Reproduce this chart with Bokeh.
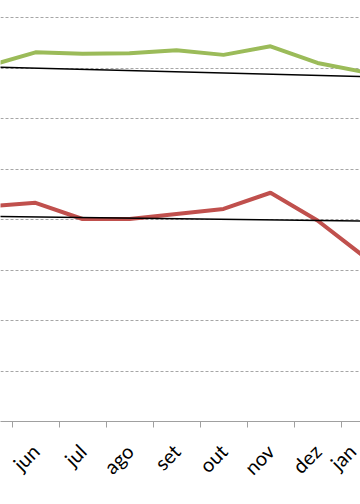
import math
from bokeh.plotting import figure
from bokeh.models import FixedTicker, Range1d
from bokeh.embed import file_html
from bokeh.resources import INLINE

# category labels (index 0 = "mai", partially outside the visible window)
months = ["mai", "jun", "jul", "ago", "set", "out", "nov", "dez", "jan"]
green_vals = [70.4, 73.1, 72.8, 72.9, 73.5, 72.6, 74.3, 71.0, 69.2]
red_vals = [42.6, 43.3, 40.1, 40.1, 41.1, 42.1, 45.3, 39.8, 32.6]
# linear trend lines (value at first and last category)
trend_x = [0, 8]
green_trend = [70.2, 68.3]
red_trend = [40.6, 39.7]
grid_vals = [10, 20, 30, 40, 50, 60, 70, 80]

xs = list(range(len(months)))
x_start, x_end = 12 / 47, 372 / 47

p = figure(width=360, height=504, output_backend="svg", toolbar_location=None,
           x_range=Range1d(x_start, x_end), y_range=Range1d(0, 421 / 5.05),
           min_border_left=0, min_border_right=0, min_border_top=0,
           min_border_bottom=83)
p.outline_line_color = None
p.background_fill_color = "white"
p.border_fill_color = "white"

p.line(xs, green_vals, line_color="#9BBB59", line_width=4)
p.line(xs, red_vals, line_color="#C0504D", line_width=4)
p.line(trend_x, green_trend, line_color="black", line_width=1.5)
p.line(trend_x, red_trend, line_color="black", line_width=1.5)

p.yaxis.visible = False
p.xgrid.visible = False
p.ygrid.ticker = FixedTicker(ticks=grid_vals)
p.ygrid.grid_line_color = "#a6a6a6"
p.ygrid.grid_line_dash = "3 2"
p.ygrid.grid_line_width = 1.2

# label positions: the category centres; the last one ("jan") lies just past
# the window edge, so pull its label onto the edge so the visible part shows
label_pos = [min(float(x), round(x_end - 0.01, 2)) for x in xs[1:]]
ax = p.xaxis[0]
ax.ticker = FixedTicker(ticks=label_pos,
                        minor_ticks=[i + 0.5 for i in range(-1, 9)])
ax.major_label_overrides = {pos: m for pos, m in zip(label_pos, months[1:])}
ax.major_tick_in = 0
ax.major_tick_out = 0
ax.minor_tick_in = 0
ax.minor_tick_out = 6
ax.minor_tick_line_color = "#a0a0a0"
ax.axis_line_color = "#a0a0a0"
ax.axis_line_width = 1.2
ax.major_label_orientation = math.pi / 4
ax.major_label_text_font = "Lato"
ax.major_label_text_font_size = "20px"
ax.major_label_text_color = "black"
ax.major_label_standoff = 20

open("out.html", "w").write(file_html(p, INLINE))
